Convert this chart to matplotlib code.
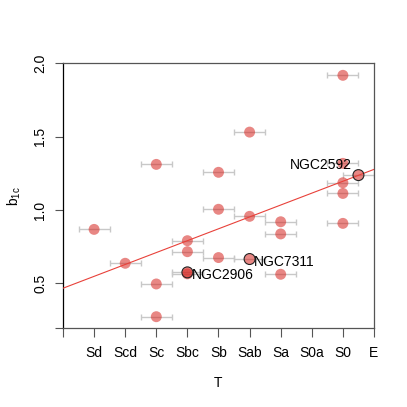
import matplotlib
matplotlib.use("Agg")
import matplotlib.pyplot as plt
import numpy as np

plt.rcParams['font.family'] = ['Liberation Sans', 'DejaVu Sans']

# ── data ──────────────────────────────────────────────────────────────────────
tick_labels = ["", "Sd", "Scd", "Sc", "Sbc", "Sb", "Sab", "Sa", "S0a", "S0", "E"]

# T position (index on the axis) and b_1c of each galaxy
t_pos = [1, 2, 3, 3, 3, 4, 4, 4, 4, 5, 5, 5, 6, 6, 6, 7, 7, 7,
         9, 9, 9, 9, 9, 9.5]
b1c = [0.868, 0.637, 1.311, 0.496, 0.273, 0.791, 0.716, 0.565, 0.575,
       1.257, 1.005, 0.676, 1.531, 0.957, 0.666, 0.920, 0.837, 0.562,
       1.918, 1.318, 1.186, 1.113, 0.909, 1.238]
t_err = 0.5

# highlighted galaxies
hl_names = ["NGC2906", "NGC7311", "NGC2592"]
hl_t = [4, 6, 9.5]
hl_b = [0.575, 0.666, 1.238]

# linear fit
fit_intercept = 0.467
fit_slope = 0.081

ylim = (0.194, 2.0)

# ── plot ──────────────────────────────────────────────────────────────────────
L, R, B, T = 0.1548, 0.9189, 0.1934, 0.8445
fig = plt.figure(figsize=(4.07, 4.07), dpi=100)
ax = fig.add_axes([L, B, R - L, T - B])

ax.errorbar(t_pos, b1c, xerr=t_err, fmt='none', ecolor='#c8c8c8',
            elinewidth=1.0, capsize=2.3, capthick=1.0, zorder=1)
ax.scatter(t_pos, b1c, s=62, color=(0.84, 0.14, 0.12), alpha=0.55,
           edgecolors='none', zorder=2)

xx = np.array([-1, 11])
ax.plot(xx, fit_intercept + fit_slope * xx, color='#e8413a', lw=0.8, zorder=3)

ax.scatter(hl_t, hl_b, s=62, facecolors='none', edgecolors='#222222',
           linewidths=0.8, zorder=4)
for name, t, b in zip(hl_names, hl_t, hl_b):
    if name == "NGC2592":
        ax.text(t - 0.2, b + 0.02, name, ha='right', va='bottom', fontsize=10)
    else:
        ax.text(t + 0.15, b - 0.02, name, ha='left', va='center', fontsize=10)

ax.set_xlim(0, 10)
ax.set_ylim(*ylim)
ax.set_xticks(range(len(tick_labels)))
ax.set_xticklabels(tick_labels)
ax.set_yticks([ylim[0], 0.5, 1.0, 1.5, 2.0])
ax.set_yticklabels(["", "0.5", "1.0", "1.5", "2.0"], rotation=90, va='center')

ax.tick_params(axis='x', length=6.5, width=0.8, pad=6, labelsize=10,
               color='#555555')
ax.tick_params(axis='y', length=5.5, width=0.8, pad=6, labelsize=10,
               color='#555555')

ax.spines['left'].set_color('black')
for s in ['top', 'right', 'bottom']:
    ax.spines[s].set_color('#555555')
for s in ax.spines.values():
    s.set_linewidth(0.9)

fig.text(0.5 * (L + R), 1 - 383 / 407, "T", ha='center',
         va='center', fontsize=10)
fig.text(14 / 407, 0.5 * (B + T), r"b$_{\mathregular{1c}}$", ha='center',
         va='center', rotation=90, fontsize=10)

fig.savefig("out.png", dpi=100)
